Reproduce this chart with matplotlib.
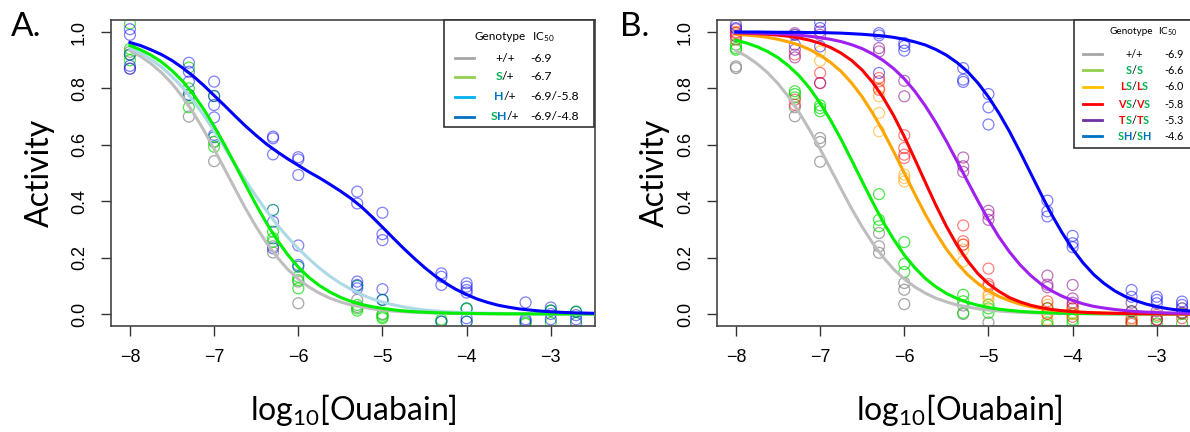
import numpy as np
import matplotlib
matplotlib.use("Agg")
import matplotlib.pyplot as plt
from matplotlib.patches import Rectangle

plt.rcParams['font.family'] = ['Liberation Sans', 'DejaVu Sans']
plt.rcParams['mathtext.fontset'] = 'custom'
plt.rcParams['mathtext.rm'] = 'Lato'
plt.rcParams['mathtext.it'] = 'Lato:italic'
plt.rcParams['mathtext.bf'] = 'Lato:bold'

LABEL_FONT = ['Lato', 'DejaVu Sans']

# log10 concentrations used in the assays
conc = [-8, -7.3, -7, -6.3, -6, -5.3, -5, -4.3, -4, -3.3, -3, -2.7]

# ---- panel A: measured activities, one list of replicates per concentration
a_wt = [[0.93, 0.92, 0.87], [0.70, 0.765], [0.61, 0.542], [0.24, 0.218], [0.115, 0.038],
        [0.05, 0.025], [0.0], [], [], [], [], []]
a_s = [[1.03, 0.94, 0.90], [0.874, 0.80, 0.733], [0.773, 0.611, 0.593], [0.292, 0.268, 0.256],
       [0.132, 0.091, 0.12], [0.032, 0.020, 0.012], [-0.003, -0.01, -0.015], [-0.02, -0.027],
       [0.018, -0.027], [-0.031, -0.035], [0.012, -0.031], [0.008]]
a_h = [[0.92], [0.777], [0.627], [0.369], [0.168], [0.10], [0.05], [], [0.02], [], [0.012], [0.008, -0.031]]
a_sh = [[1.01, 0.99, 0.88, 0.87], [0.891, 0.859, 0.824, 0.777], [0.824, 0.773, 0.741, 0.697, 0.635],
        [0.629, 0.623, 0.566, 0.327, 0.233], [0.556, 0.548, 0.493, 0.243, 0.174],
        [0.434, 0.392, 0.115, 0.103, 0.091], [0.359, 0.283, 0.262, 0.088, 0.05],
        [0.144, 0.132, 0.103, -0.027], [0.109, 0.097, 0.085, 0.076, -0.015, -0.027],
        [0.041, -0.019, -0.025], [0.023, 0.0, -0.019], [-0.004, -0.019]]

# ---- panel B
b_wt = [[0.878, 0.872], [0.733, 0.701], [0.624, 0.610, 0.54], [0.287, 0.240, 0.217],
        [0.110, 0.086, 0.035], [0.03, 0.0], [-0.03], [], [], [], [], []]
b_s = [[0.955, 0.943, 0.937], [0.79, 0.78, 0.768], [0.740, 0.730, 0.719], [0.425, 0.334, 0.311],
       [0.255, 0.177, 0.149], [0.068, 0.045, 0.004], [0.033, 0.02, 0.004], [0.02, -0.03, -0.04],
       [0.002, -0.02, -0.034], [0.009, -0.03], [-0.01, -0.034], [0.0, -0.034]]
b_ls = [[1.035, 0.99], [0.99], [0.931, 0.898], [0.801, 0.772, 0.713, 0.648], [0.494, 0.482, 0.470],
        [0.246, 0.228, 0.187], [0.07, 0.063, 0.051], [0.033, 0.004, -0.02], [0.02, 0.002, 0.0],
        [-0.02], [-0.02], [0.02]]
b_vs = [[1.0, 0.996, 0.973], [0.92, 0.76, 0.742], [0.855, 0.819], [0.837, 0.825, 0.795],
        [0.634, 0.589, 0.565, 0.553], [0.314, 0.258, 0.246], [0.161, 0.106, 0.098],
        [0.045, 0.021, 0.0], [0.032, 0.020, -0.010], [-0.015, -0.027, -0.035], [-0.003, -0.021],
        [0.002, -0.015]]
b_ts = [[1.01, 0.985], [0.996, 0.937, 0.910], [1.002, 0.99, 0.819], [0.943, 0.931], [0.827, 0.772],
        [0.555, 0.524, 0.504], [0.366, 0.352, 0.334], [0.136, 0.104, 0.095], [0.103, 0.055, 0.04],
        [0.04, 0.01], [0.01, -0.021], [0.005]]
b_sh = [[1.024, 1.014], [0.99, 0.955], [1.035, 1.014, 0.949], [0.996, 0.988, 0.855],
        [0.961, 0.95, 0.934], [0.872, 0.831, 0.823], [0.780, 0.733, 0.672], [0.402, 0.364, 0.346],
        [0.277, 0.251, 0.237], [0.085, 0.061], [0.061, 0.050, 0.038], [0.044, 0.032, 0.020]]

# ---- fitted curves, every 1/8 log unit from -8 to -2.5
curve_x = np.linspace(-8, -2.5, 45)
fit_wt = [0.934, 0.914, 0.888, 0.856, 0.817, 0.770, 0.715, 0.653,
          0.585, 0.514, 0.443, 0.373, 0.309, 0.251, 0.201, 0.158,
          0.124, 0.096, 0.074, 0.056, 0.043, 0.032, 0.025, 0.0185,
          0.014, 0.0105, 0.008, 0.0059, 0.0044, 0.0033, 0.0025, 0.0019,
          0.0014, 0.0011, 0.0008, 0.0006, 0.0004, 0.0003, 0.0002, 0.0002,
          0.0001, 0.0001, 0.0001, 0.0001, 0.0]
fitA_s = [0.952, 0.937, 0.918, 0.894, 0.863, 0.826, 0.780, 0.727,
          0.666, 0.600, 0.529, 0.457, 0.387, 0.321, 0.262, 0.210,
          0.166, 0.130, 0.101, 0.078, 0.059, 0.045, 0.034, 0.026,
          0.020, 0.015, 0.011, 0.0084, 0.0063, 0.0047, 0.0035, 0.0027,
          0.002, 0.0015, 0.0011, 0.0008, 0.0006, 0.0005, 0.0004, 0.0003,
          0.0002, 0.0001, 0.0001, 0.0001, 0.0001]
fitA_h = [0.942, 0.925, 0.903, 0.876, 0.842, 0.803, 0.757, 0.706,
          0.649, 0.590, 0.530, 0.473, 0.417, 0.365, 0.316, 0.272,
          0.232, 0.196, 0.163, 0.134, 0.109, 0.088, 0.069, 0.054,
          0.042, 0.033, 0.025, 0.019, 0.014, 0.011, 0.008, 0.006,
          0.005, 0.0035, 0.0028, 0.002, 0.0015, 0.0011, 0.0008, 0.0006,
          0.0005, 0.0004, 0.0003, 0.0002, 0.0001]
fitA_sh = [0.963, 0.952, 0.937, 0.920, 0.899, 0.873, 0.844, 0.811,
           0.775, 0.739, 0.702, 0.666, 0.633, 0.602, 0.575, 0.550,
           0.527, 0.504, 0.483, 0.460, 0.436, 0.410, 0.380, 0.345,
           0.308, 0.270, 0.233, 0.198, 0.165, 0.135, 0.109, 0.087,
           0.069, 0.053, 0.041, 0.031, 0.024, 0.018, 0.014, 0.0104,
           0.008, 0.0059, 0.0044, 0.0033, 0.0025]
fitB_s = [0.971, 0.961, 0.948, 0.931, 0.909, 0.880, 0.845, 0.801,
          0.748, 0.687, 0.619, 0.545, 0.470, 0.396, 0.326, 0.264,
          0.209, 0.164, 0.126, 0.0965, 0.073, 0.055, 0.041, 0.031,
          0.023, 0.017, 0.013, 0.0094, 0.007, 0.0052, 0.0038, 0.0028,
          0.0021, 0.0016, 0.0011, 0.0008, 0.0006, 0.0005, 0.0003, 0.0003,
          0.0002, 0.0001, 0.0001, 0.0001, 0.0001]
fitB_ls = [0.992, 0.989, 0.986, 0.981, 0.974, 0.965, 0.954, 0.938,
           0.918, 0.892, 0.860, 0.819, 0.770, 0.712, 0.647, 0.575,
           0.500, 0.425, 0.353, 0.288, 0.230, 0.181, 0.140, 0.108,
           0.082, 0.062, 0.047, 0.035, 0.026, 0.019, 0.014, 0.011,
           0.008, 0.0058, 0.0043, 0.0032, 0.0024, 0.0018, 0.0013, 0.001,
           0.0007, 0.0005, 0.0004, 0.0003, 0.0002]
fitB_vs = [0.997, 0.996, 0.994, 0.992, 0.989, 0.985, 0.979, 0.971,
           0.960, 0.945, 0.925, 0.899, 0.865, 0.821, 0.767, 0.703,
           0.629, 0.549, 0.467, 0.386, 0.311, 0.245, 0.189, 0.143,
           0.107, 0.080, 0.058, 0.043, 0.031, 0.0225, 0.016, 0.0117,
           0.0084, 0.0061, 0.0044, 0.0032, 0.0023, 0.0016, 0.0012, 0.0008,
           0.0006, 0.0004, 0.0003, 0.0002, 0.0002]
fitB_ts = [0.998, 0.997, 0.996, 0.995, 0.994, 0.992, 0.989, 0.985,
           0.980, 0.974, 0.966, 0.955, 0.941, 0.922, 0.899, 0.870,
           0.834, 0.790, 0.738, 0.679, 0.613, 0.543, 0.471, 0.401,
           0.334, 0.273, 0.220, 0.1745, 0.137, 0.106, 0.082, 0.063,
           0.048, 0.036, 0.027, 0.021, 0.016, 0.012, 0.0088, 0.0066,
           0.005, 0.0038, 0.0028, 0.0021, 0.0016]
fitB_sh = [1.0, 1.0, 1.0, 0.9995, 0.999, 0.999, 0.999, 0.998,
           0.998, 0.997, 0.996, 0.994, 0.992, 0.989, 0.986, 0.981,
           0.974, 0.965, 0.954, 0.938, 0.918, 0.892, 0.860, 0.819,
           0.770, 0.712, 0.647, 0.575, 0.500, 0.425, 0.353, 0.288,
           0.230, 0.181, 0.140, 0.108, 0.082, 0.062, 0.047, 0.035,
           0.026, 0.019, 0.014, 0.011, 0.008]

W, H = 1190, 432
fig = plt.figure(figsize=(W / 100, H / 100), dpi=100)


def fx(px):
    return px / W


def fy(py):
    return 1 - py / H


def points(ax, reps, color, alpha):
    xs = [c for c, r in zip(conc, reps) for v in r]
    ys = [v for r in reps for v in r]
    ax.scatter(xs, ys, s=62, facecolors='none', edgecolors=color, alpha=alpha, linewidths=0.9, zorder=2)


def style(ax, ylab_x):
    ax.set_xlim(-8.225, -2.475)
    ax.set_ylim(-0.0426, 1.0426)
    ax.set_xticks([-8, -7, -6, -5, -4, -3])
    ax.set_yticks([0, 0.2, 0.4, 0.6, 0.8, 1.0])
    ax.set_yticklabels(['0.0', '0.2', '0.4', '0.6', '0.8', '1.0'], rotation=90, va='center')
    ax.tick_params(length=7.5, width=1.0, color='#333333', labelsize=13, pad=9)
    for sp in ax.spines.values():
        sp.set_color('#444444')
        sp.set_linewidth(1.2)
    ax.set_ylabel('Activity', family=LABEL_FONT, fontsize=23, va='center')
    ax.yaxis.set_label_coords(ylab_x, 0.5)
    ax.set_xlabel('log$_{10}$[Ouabain]', family=LABEL_FONT, fontsize=23, va='center')
    ax.xaxis.set_label_coords(0.5, -0.275)


axA = fig.add_axes([fx(111), fy(326), 484 / W, 306 / H])
axB = fig.add_axes([fx(717), fy(326), 484 / W, 306 / H])

points(axA, a_wt, '#808080', 0.7)
points(axA, a_s, '#00dd00', 0.7)
points(axA, a_sh, '#0000ff', 0.5)
points(axA, a_h, '#008080', 0.8)
lw = 2.2
axA.plot(curve_x, fit_wt, color='#bebebe', lw=lw, zorder=3)
axA.plot(curve_x, fitA_h, color='#add8e6', lw=lw, zorder=3)
axA.plot(curve_x, fitA_s, color='#00ee00', lw=lw, zorder=3)
axA.plot(curve_x, fitA_sh, color='#0000ff', lw=lw, zorder=3)
style(axA, -0.147)

points(axB, b_wt, '#808080', 0.7)
points(axB, b_s, '#00dd00', 0.7)
points(axB, b_ls, '#ffa500', 0.55)
points(axB, b_vs, '#ff0000', 0.5)
points(axB, b_ts, '#8b008b', 0.55)
points(axB, b_sh, '#0000ff', 0.5)
axB.plot(curve_x, fit_wt, color='#bebebe', lw=lw, zorder=3)
axB.plot(curve_x, fitB_s, color='#00ee00', lw=lw, zorder=3)
axB.plot(curve_x, fitB_ls, color='#ffa500', lw=lw, zorder=3)
axB.plot(curve_x, fitB_vs, color='#ff0000', lw=lw, zorder=3)
axB.plot(curve_x, fitB_ts, color='#a020f0', lw=lw, zorder=3)
axB.plot(curve_x, fitB_sh, color='#0000ff', lw=lw, zorder=3)
style(axB, -0.128)

fig.text(fx(26), fy(27), 'A.', family=LABEL_FONT, fontsize=24, ha='center', va='center')
fig.text(fx(635), fy(27), 'B.', family=LABEL_FONT, fontsize=24, ha='center', va='center')

# ---- overlaid legend boxes
GRN, BLU, RED, BLK = '#00b050', '#0070c0', '#ff0000', 'black'
legA_geno = [[('+/+', BLK)], [('S', GRN), ('/+', BLK)], [('H', BLU), ('/+', BLK)],
             [('S', GRN), ('H', BLU), ('/+', BLK)]]
legA_ic = ['-6.9', '-6.7', '-6.9/-5.8', '-6.9/-4.8']
legA_col = ['#a6a6a6', '#92d050', '#00b0f0', '#0070c0']
legB_geno = [[('+/+', BLK)], [('S', GRN), ('/', BLK), ('S', GRN)],
             [('L', RED), ('S', GRN), ('/', BLK), ('L', RED), ('S', GRN)],
             [('V', RED), ('S', GRN), ('/', BLK), ('V', RED), ('S', GRN)],
             [('T', RED), ('S', GRN), ('/', BLK), ('T', RED), ('S', GRN)],
             [('S', GRN), ('H', BLU), ('/', BLK), ('S', GRN), ('H', BLU)]]
legB_ic = ['-6.9', '-6.6', '-6.0', '-5.8', '-5.3', '-4.6']
legB_col = ['#a6a6a6', '#92d050', '#ffc000', '#ff0000', '#7030a0', '#0070c0']

renderer = fig.canvas.get_renderer()


def colored_label(pieces, cx, cy, size):
    widths = []
    for s, c in pieces:
        wt = 'normal' if c == BLK else 'bold'
        t = fig.text(0, 0, s, fontsize=size, family=LABEL_FONT, fontweight=wt)
        widths.append(t.get_window_extent(renderer).width)
        t.remove()
    x = cx - sum(widths) / 2
    for (s, c), w in zip(pieces, widths):
        wt = 'normal' if c == BLK else 'bold'
        fig.text(fx(x), fy(cy), s, color=c, fontsize=size, family=LABEL_FONT, fontweight=wt,
                 va='center', ha='left', zorder=6)
        x += w


def legend(box, head_y, rows_y, line_x, head_x, geno_x, ic_head_x, ic_x, geno, ic, cols, size, head_size):
    x0, y0, x1, y1 = box
    fig.patches.append(Rectangle((fx(x0), fy(y1)), (x1 - x0) / W, (y1 - y0) / H,
                                 transform=fig.transFigure, facecolor='white',
                                 edgecolor='#333333', lw=1.2, zorder=5))
    fig.text(fx(head_x), fy(head_y), 'Genotype', fontsize=head_size, family=LABEL_FONT,
             ha='center', va='center', zorder=6)
    fig.text(fx(ic_head_x), fy(head_y), 'IC$_{50}$', fontsize=head_size, family=LABEL_FONT,
             ha='left', va='center', zorder=6)
    for g, v, c, y in zip(geno, ic, cols, rows_y):
        fig.lines.append(plt.Line2D([fx(line_x[0]), fx(line_x[1])], [fy(y), fy(y)],
                                    transform=fig.transFigure, color=c, lw=2, zorder=6))
        colored_label(g, geno_x, y, size)
        fig.text(fx(ic_x), fy(y), v, fontsize=size, family=LABEL_FONT, ha='left', va='center', zorder=6)


legend((444, 20, 594, 127), 37, [58, 77, 97, 117], (455, 474), 500, 505, 532, 530,
       legA_geno, legA_ic, legA_col, 8.8, 8.5)
legend((1074, 20, 1200, 148), 32, [54, 70, 87, 104, 120, 136], (1083, 1102), 1131, 1134, 1158, 1164,
       legB_geno, legB_ic, legB_col, 7.8, 7.2)

fig.savefig('out.png', dpi=100)
